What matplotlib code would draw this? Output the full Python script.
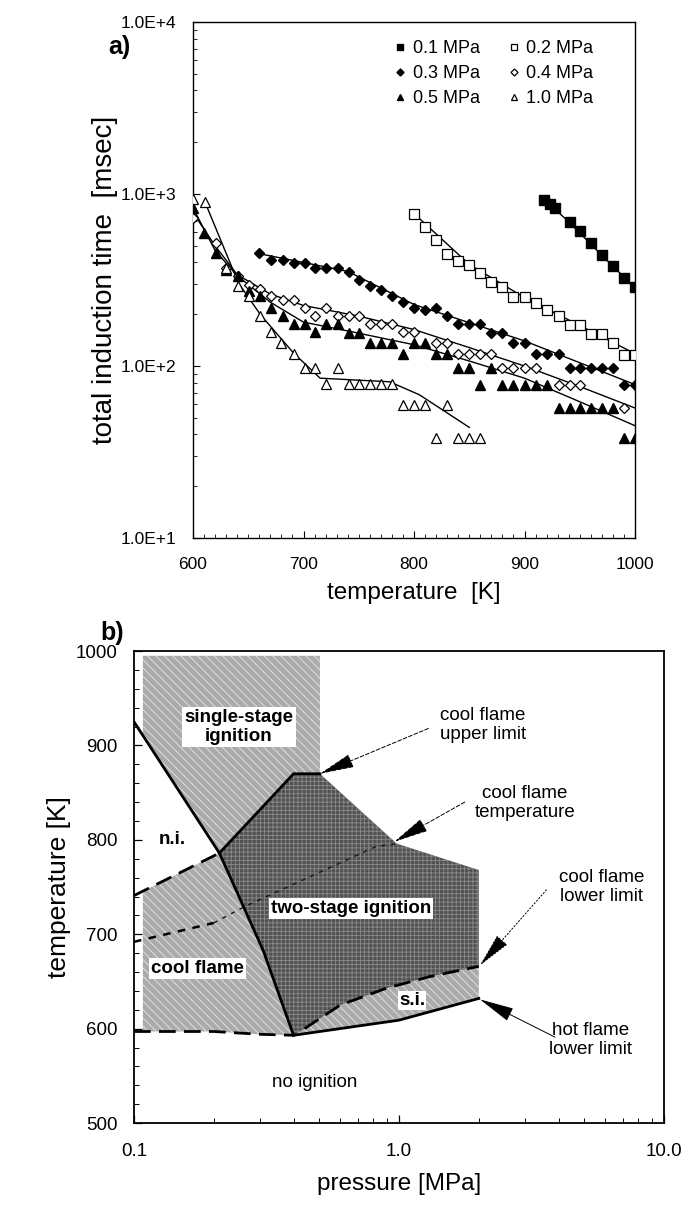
import matplotlib
matplotlib.use('Agg')
import matplotlib.pyplot as plt
import numpy as np
from matplotlib.ticker import MultipleLocator, LogLocator, NullFormatter
from matplotlib.patches import Polygon

plt.rcParams['font.family'] = ['Liberation Sans', 'DejaVu Sans']
plt.rcParams['hatch.linewidth'] = 0.6

# ---------------- panel a data (temperature [K], induction time [msec]) ----------------
T_01 = [918, 923, 928, 941, 950, 960, 970, 980, 990, 1000]
tau_01 = [923, 881, 835, 692, 611, 521, 442, 381, 326, 288]

T_02 = [800, 810, 820, 830, 840, 850, 860, 870, 880, 890, 900, 910, 920, 931, 941, 950, 960, 970, 980, 990, 1000]
tau_02 = [764, 644, 541, 447, 408, 387, 348, 309, 288, 251, 251, 233, 213, 195, 174, 174, 154, 154, 136, 116, 116]

T_03 = [660, 671, 681, 691, 701, 710, 720, 731, 741, 750, 760, 770, 780, 790, 800, 810, 820, 830, 840,
        850, 860, 870, 880, 890, 900, 910, 920, 931, 941, 950, 960, 970, 980, 990, 1000]
tau_03 = [456, 413, 413, 395, 395, 370, 370, 370, 353, 316, 292, 275, 255, 235, 218, 213, 218, 195, 176,
          176, 176, 156, 156, 136, 136, 117, 117, 117, 97, 97, 97, 97, 97, 78, 78]

T_04 = [600, 621, 630, 641, 651, 661, 671, 681, 691, 701, 710, 720, 731, 741, 750, 760, 770, 780, 790, 800,
        820, 830, 840, 850, 860, 870, 880, 890, 900, 910, 931, 941, 950, 990]
tau_04 = [730, 521, 370, 334, 296, 279, 257, 241, 241, 218, 195, 218, 195, 195, 195, 176, 176, 176, 158, 158,
          136, 136, 117, 117, 117, 117, 97, 97, 97, 97, 78, 78, 78, 57]

T_05 = [600, 610, 621, 630, 641, 651, 661, 671, 681, 691, 701, 710, 720, 731, 741, 750, 760, 770, 780, 790,
        800, 810, 820, 830, 840, 850, 860, 870, 880, 890, 900, 910, 920, 931, 941, 950, 960, 970, 980, 990, 1000]
tau_05 = [835, 597, 456, 360, 334, 272, 255, 218, 195, 176, 176, 158, 176, 176, 156, 156, 136, 136, 136, 117,
          136, 136, 117, 117, 97, 97, 78, 97, 78, 78, 78, 78, 78, 57, 57, 57, 57, 57, 57, 38, 38]

T_10 = [600, 611, 630, 641, 651, 661, 671, 680, 691, 701, 710, 720, 731, 741, 750, 760, 770, 780, 790, 800,
        810, 820, 830, 840, 850, 860]
tau_10 = [935, 893, 373, 292, 255, 195, 158, 136, 117, 98, 98, 79, 98, 79, 79, 79, 79, 79, 59, 59,
          59, 38, 59, 38, 38, 38]

# fitted curves
fit_T_01 = [918, 940, 970, 1000]
fit_tau_01 = [930, 690, 440, 285]
fit_T_02 = [800, 850, 900, 950, 1000]
fit_tau_02 = [770, 390, 250, 172, 118]
fit_T_03 = [660, 700, 740, 800, 900, 1000]
fit_tau_03 = [450, 400, 355, 228, 140, 78]
fit_T_04 = [600, 620, 640, 670, 700, 750, 800, 850, 900, 950, 1000]
fit_tau_04 = [780, 500, 340, 262, 225, 195, 163, 128, 100, 76, 57]
fit_T_05 = [600, 620, 640, 670, 700, 740, 800, 850, 900, 950, 1000]
fit_tau_05 = [830, 470, 335, 235, 180, 160, 133, 107, 85, 62, 45]
fit_T_10 = [611, 641, 661, 691, 715, 778, 805, 850]
fit_tau_10 = [893, 305, 199, 119, 85, 81, 68, 44]

labels_a = ['0.1 MPa', '0.2 MPa', '0.3 MPa', '0.4 MPa', '0.5 MPa', '1.0 MPa']
ytick_vals_a = [10, 100, 1000, 10000]
ytick_labels_a = ['1.0E+1', '1.0E+2', '1.0E+3', '1.0E+4']
xtick_vals_a = [600, 700, 800, 900, 1000]

# ---------------- panel b data (pressure [MPa], temperature [K]) ----------------
ni_P = [0.1, 0.21, 0.307, 0.4]          # n.i. / two-stage left boundary (solid)
ni_T = [925, 786, 683, 593]
cfu_P = [0.1, 0.21, 0.4, 0.503]         # cool flame upper limit
cfu_T = [741, 786, 870, 870]
dark_right_P = [0.503, 0.98, 2.0, 2.0]
dark_right_T = [870, 796, 768, 666]
cfl_P = [0.44, 0.6, 0.9, 1.3, 2.0]      # cool flame lower limit
cfl_T = [600, 625, 643, 655, 666]
hfl_P = [0.4, 1.0, 2.0]                 # hot flame lower limit
hfl_T = [593, 609, 632]
noign_P = [0.1, 0.2, 0.3, 0.4]
noign_T = [597, 597, 594, 593]
cft_P = [0.1, 0.2, 0.26, 0.82, 0.98]    # cool flame temperature
cft_T = [692, 712, 729, 793, 796]
ss_P = [0.108, 0.503]                   # single-stage hatched band
ss_Ttop = 995

# ---------------- figure ----------------
fig = plt.figure(figsize=(6.94, 12.05), dpi=100)

# ===== panel a =====
axa = fig.add_axes([0.2781, 0.5535, 0.6369, 0.4282])
mk = dict(ls='none', color='black', mec='black')
series = [
    (T_01, tau_01, fit_T_01, fit_tau_01, dict(marker='s', ms=6.5, mfc='black')),
    (T_02, tau_02, fit_T_02, fit_tau_02, dict(marker='s', ms=6.5, mfc='white', mew=0.9)),
    (T_03, tau_03, fit_T_03, fit_tau_03, dict(marker='D', ms=5.5, mfc='black')),
    (T_04, tau_04, fit_T_04, fit_tau_04, dict(marker='D', ms=5.5, mfc='white', mew=0.9)),
    (T_05, tau_05, fit_T_05, fit_tau_05, dict(marker='^', ms=7.5, mfc='black')),
    (T_10, tau_10, fit_T_10, fit_tau_10, dict(marker='^', ms=7.5, mfc='white', mew=0.9)),
]
handles = []
for (T, tau, fT, ftau, st), lab in zip(series, labels_a):
    axa.plot(fT, ftau, color='black', lw=1.0, zorder=2)
    h, = axa.plot(T, tau, label=lab, zorder=3, **mk, **st)
    handles.append(h)

axa.set_yscale('log')
axa.set_ylim(10, 10000)
axa.set_xlim(600, 1000)
axa.set_yticks(ytick_vals_a)
axa.set_yticklabels(ytick_labels_a)
axa.yaxis.set_minor_locator(LogLocator(base=10, subs=np.arange(2, 10)))
axa.yaxis.set_minor_formatter(NullFormatter())
axa.set_xticks(xtick_vals_a)
axa.xaxis.set_minor_locator(MultipleLocator(10))
axa.tick_params(axis='both', which='major', direction='in', length=5, width=0.8, labelsize=12.5)
axa.tick_params(axis='x', which='major', pad=14)
axa.tick_params(axis='y', which='major', pad=12)
axa.tick_params(axis='both', which='minor', direction='in', length=3, width=0.6)
for s in axa.spines.values():
    s.set_linewidth(1.0)
axa.set_xlabel('temperature  [K]', fontsize=17.5, labelpad=7)
axa.set_ylabel('total induction time  [msec]', fontsize=20, labelpad=2)

order = [0, 2, 4, 1, 3, 5]
leg = axa.legend([handles[i] for i in order], [labels_a[i] for i in order], ncol=2,
                 loc='upper left', bbox_to_anchor=(0.415, 0.997), frameon=False,
                 fontsize=13, markerscale=0.65, handlelength=0.8, handletextpad=0.3,
                 columnspacing=1.5, labelspacing=0.45)

fig.text(108 / 694, 1 - 47 / 1205, 'a)', fontsize=18, fontweight='bold', ha='left', va='center')
fig.text(100 / 694, 1 - 633 / 1205, 'b)', fontsize=18, fontweight='bold', ha='left', va='center')

# ===== panel b =====
axb = fig.add_axes([0.1931, 0.0680, 0.7637, 0.3917])
axb.set_xscale('log')
axb.set_xlim(0.1, 10)
axb.set_ylim(500, 1000)


def on_line(P, xs, ys):
    return float(np.interp(np.log10(P), np.log10(xs), ys))


P0 = ss_P[0]
light_pts = [(P0, on_line(P0, noign_P, noign_T)), (P0, on_line(P0, cfu_P, cfu_T))]
light_pts += [(cfu_P[1], cfu_T[1])]
light_pts += [(P0, on_line(P0, ni_P[:2], ni_T[:2])), (P0, ss_Ttop), (ss_P[1], ss_Ttop),
              (ss_P[1], cfu_T[3]), (cfu_P[2], cfu_T[2]), (cfu_P[1], cfu_T[1])]
light_pts += [(ni_P[2], ni_T[2]), (ni_P[3], ni_T[3])]
light_pts += [(p, t) for p, t in zip(noign_P[::-1][1:], noign_T[::-1][1:]) if p > P0]
light_pts += [(P0, on_line(P0, noign_P, noign_T))]

dark_pts = [(cfu_P[1], cfu_T[1]), (cfu_P[2], cfu_T[2]), (cfu_P[3], cfu_T[3])]
dark_pts += list(zip(dark_right_P[1:], dark_right_T[1:]))
dark_pts += list(zip(cfl_P[::-1][1:], cfl_T[::-1][1:]))
dark_pts += [(ni_P[3], ni_T[3]), (ni_P[2], ni_T[2])]

si_pts = list(zip(cfl_P, cfl_T)) + list(zip(hfl_P[::-1], hfl_T[::-1]))

light_kw = dict(facecolor='#ababab', edgecolor='#e6e6e6', hatch='\\\\\\\\', lw=0, zorder=1)
axb.add_patch(Polygon(light_pts, closed=True, **light_kw))
axb.add_patch(Polygon(si_pts, closed=True, **light_kw))
axb.add_patch(Polygon(dark_pts, closed=True, facecolor='#525252', edgecolor='#8a8a8a',
                      hatch='++++', lw=0, zorder=1))

lk = dict(color='black', zorder=4)
axb.plot(ni_P, ni_T, lw=2.0, **lk)
axb.plot(cfu_P[:2], cfu_T[:2], lw=2.0, ls=(0, (6, 3)), **lk)
axb.plot(cfu_P[1:], cfu_T[1:], lw=2.0, **lk)
axb.plot(noign_P, noign_T, lw=2.0, ls=(0, (6, 3)), **lk)
axb.plot(hfl_P, hfl_T, lw=2.0, **lk)
axb.plot(cfl_P, cfl_T, lw=2.0, ls=(0, (6, 3)), **lk)
axb.plot(cft_P[:2], cft_T[:2], lw=1.8, ls=(0, (3, 3)), **lk)
axb.plot(cft_P[1:], cft_T[1:], lw=1.0, ls=(0, (3, 4)), color='#151515', zorder=4)

box = dict(facecolor='white', edgecolor='none', pad=1.5)
rfs = 13.5
axb.text(0.249, 920, 'single-stage\nignition', fontsize=rfs, fontweight='bold', ha='center',
         va='center', linespacing=1.15, bbox=box, zorder=5)
axb.text(0.139, 800, 'n.i.', fontsize=rfs, fontweight='bold', ha='center', va='center', zorder=5)
axb.text(0.66, 727, 'two-stage ignition', fontsize=rfs, fontweight='bold', ha='center',
         va='center', bbox=box, zorder=5)
axb.text(0.174, 664, 'cool flame', fontsize=rfs, fontweight='bold', ha='center', va='center',
         bbox=box, zorder=5)
axb.text(1.12, 630, 's.i.', fontsize=rfs, fontweight='bold', ha='center', va='center',
         bbox=dict(facecolor='white', edgecolor='none', pad=0.8), zorder=5)
axb.text(0.48, 543, 'no ignition', fontsize=13.5, ha='center', va='center', zorder=5)

afs = 13.5
arr = dict(arrowstyle='-|>,head_length=1.1,head_width=0.22', color='black', lw=0.7,
           shrinkA=0, shrinkB=0, mutation_scale=20)
axb.annotate('', xy=(0.503, 870), xytext=(1.29, 918), arrowprops=dict(arr, ls=(0, (4, 2))), zorder=6)
axb.text(2.07, 922, 'cool flame\nupper limit', fontsize=afs, ha='center', va='center', linespacing=1.15)
axb.annotate('', xy=(0.96, 798), xytext=(1.77, 840), arrowprops=dict(arr, ls=(0, (4, 2))), zorder=6)
axb.text(2.98, 839, 'cool flame\ntemperature', fontsize=afs, ha='center', va='center', linespacing=1.15)
axb.annotate('', xy=(2.02, 667), xytext=(3.6, 747), arrowprops=dict(arr, ls=(0, (1.5, 2))), zorder=6)
axb.text(5.8, 750, 'cool flame\nlower limit', fontsize=afs, ha='center', va='center', linespacing=1.15)
axb.annotate('', xy=(2.02, 631), xytext=(3.88, 591), arrowprops=dict(arr), zorder=6)
axb.text(5.26, 588, 'hot flame\nlower limit', fontsize=afs, ha='center', va='center', linespacing=1.15)

axb.set_xticks([0.1, 1, 10])
axb.set_xticklabels(['0.1', '1.0', '10.0'])
axb.xaxis.set_minor_locator(LogLocator(base=10, subs=np.arange(2, 10)))
axb.xaxis.set_minor_formatter(NullFormatter())
axb.set_yticks([500, 600, 700, 800, 900, 1000])
axb.yaxis.set_minor_locator(MultipleLocator(20))
axb.tick_params(axis='both', which='major', direction='in', length=6, width=0.9, labelsize=13.5)
axb.tick_params(axis='x', which='major', pad=14)
axb.tick_params(axis='y', which='major', pad=12)
axb.tick_params(axis='both', which='minor', direction='in', length=3.5, width=0.7)
for s in axb.spines.values():
    s.set_linewidth(1.3)
axb.set_xlabel('pressure [MPa]', fontsize=17.5, labelpad=10)
axb.set_ylabel('temperature [K]', fontsize=19, labelpad=3)

fig.savefig('out.png', dpi=100)
